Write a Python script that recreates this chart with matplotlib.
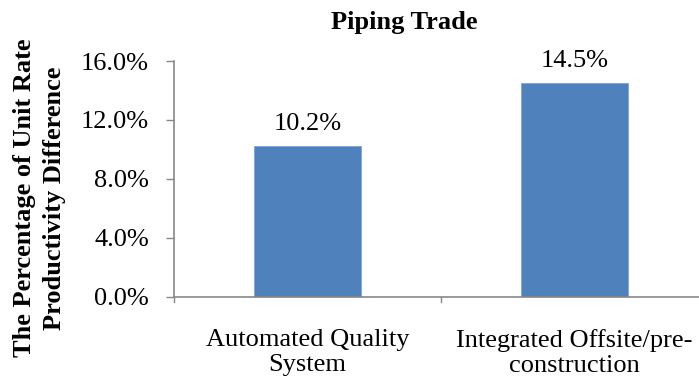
import matplotlib
matplotlib.use("Agg")
import matplotlib.pyplot as plt
from matplotlib.ticker import FuncFormatter

categories = ["Automated Quality\nSystem", "Integrated Offsite/pre-\nconstruction"]
values = [10.2, 14.5]
y_ticks = [0.0, 4.0, 8.0, 12.0, 16.0]

plt.rcParams["font.family"] = ["Liberation Serif", "DejaVu Serif"]
FS = 19

W, H = 699, 381
fig = plt.figure(figsize=(W / 100, H / 100), dpi=100)
# axes box in pixel coordinates (left, top, right, bottom)
left, top, right, bottom = 174, 61, 708, 296.7
ax = fig.add_axes([left / W, 1 - bottom / H, (right - left) / W, (bottom - top) / H])

bar_color = "#4F81BD"
axis_color = "#878787"
x = list(range(len(categories)))
bars = ax.bar(x, values, width=0.4, color=bar_color, edgecolor="#7FA3D3", linewidth=0.6, zorder=2)

for xi, v in zip(x, values):
    ax.annotate(f"{v:.1f}%", (xi, v), xytext=(0, 8), textcoords="offset points",
                ha="center", va="bottom", fontsize=FS)

ax.set_xlim(-0.5, len(categories) - 0.5)
ax.set_ylim(0, 16)
ax.set_yticks(y_ticks)
ax.yaxis.set_major_formatter(FuncFormatter(lambda v, p: f"{v:.1f}%"))
ax.set_xticks(x)
ax.set_xticklabels(categories, fontsize=FS, linespacing=1.17)
ax.tick_params(axis="x", length=0, pad=23)
ax.tick_params(axis="y", labelsize=FS, length=6, width=1, color=axis_color, pad=12)

# category boundary ticks on the x axis
for b in [i - 0.5 for i in range(len(categories) + 1)]:
    ax.plot([b, b], [0, -0.35], color=axis_color, lw=1, clip_on=False, zorder=3)

for s in ["top", "right"]:
    ax.spines[s].set_visible(False)
for s in ["left", "bottom"]:
    ax.spines[s].set_color(axis_color)
    ax.spines[s].set_linewidth(1.2)

fig.text(404 / W, 1 - 22 / H, "Piping Trade", ha="center", va="center",
         fontsize=FS, fontweight="bold")
fig.text(25 / W, 1 - 198 / H, "The Percentage of Unit Rate", ha="center", va="center",
         rotation=90, fontsize=FS, fontweight="bold")
fig.text(54 / W, 1 - 198 / H, "Productivity Difference", ha="center", va="center",
         rotation=90, fontsize=FS, fontweight="bold")

fig.savefig("out.png", dpi=100)
